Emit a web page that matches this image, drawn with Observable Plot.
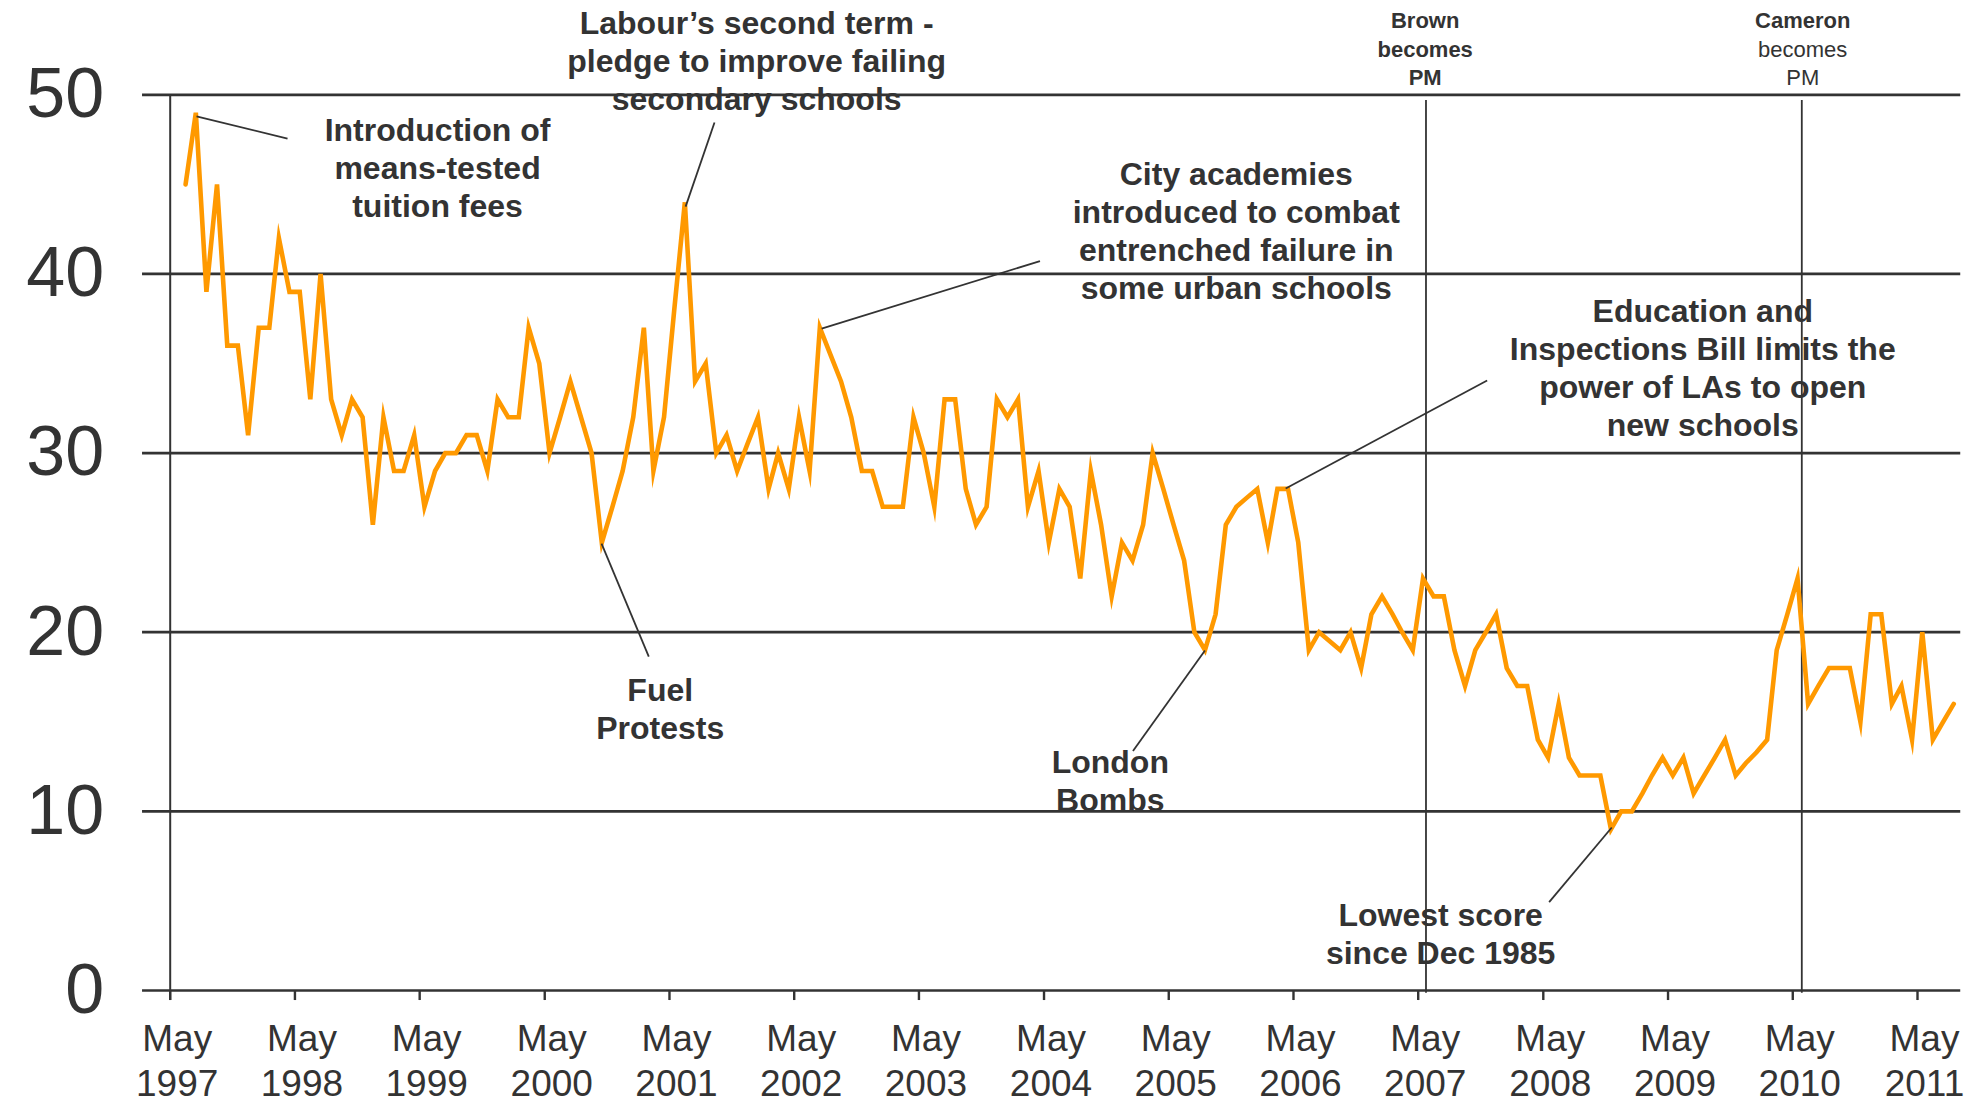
<!DOCTYPE html>
<html>
<head>
<meta charset="utf-8">
<script src="https://cdn.jsdelivr.net/npm/d3@7"></script>
<script src="https://cdn.jsdelivr.net/npm/@observablehq/plot@0.6"></script>
<style>
  html, body { margin: 0; padding: 0; background: #fff; }
  svg { display: block; }
</style>
</head>
<body>
<div id="chart"></div>
<script>
// ---------------- DATA ----------------
// Monthly scores, first observation June 1997, last August 2011
const firstYear = 1997;
const firstMonthIndex = 5; // June (0-based)
const scores1997 = [45, 49, 39, 45, 36, 36, 31];                       // Jun–Dec 1997
const scores1998 = [37, 37, 42, 39, 39, 33, 40, 33, 31, 33, 32, 26];
const scores1999 = [32, 29, 29, 31, 27, 29, 30, 30, 31, 31, 29, 33];
const scores2000 = [32, 32, 37, 35, 30, 32, 34, 32, 30, 25, 27, 29];
const scores2001 = [32, 37, 29, 32, 38, 44, 34, 35, 30, 31, 29, 30.5];
const scores2002 = [32, 28, 30, 28, 32, 29, 37, 35.5, 34, 32, 29, 29];
const scores2003 = [27, 27, 27, 32, 30, 27, 33, 33, 28, 26, 27, 33];
const scores2004 = [32, 33, 27, 29, 25, 28, 27, 23, 29, 26, 22, 25];
const scores2005 = [24, 26, 30, 28, 26, 24, 20, 19, 21, 26, 27, 27.5];
const scores2006 = [28, 25, 28, 28, 25, 19, 20, 19.5, 19, 20, 18, 21];
const scores2007 = [22, 21, 20, 19, 23, 22, 22, 19, 17, 19, 20, 21];
const scores2008 = [18, 17, 17, 14, 13, 16, 13, 12, 12, 12, 9, 10];
const scores2009 = [10, 11, 12, 13, 12, 13, 11, 12, 13, 14, 12, 12.7];
const scores2010 = [13.3, 14, 19, 21, 23, 16, 17, 18, 18, 18, 15, 21];
const scores2011 = [21, 16, 17, 14, 20, 14, 15, 16];                  // Jan–Aug 2011

const yTicks = [0, 10, 20, 30, 40, 50];
const tickYears = [1997, 1998, 1999, 2000, 2001, 2002, 2003, 2004, 2005, 2006, 2007, 2008, 2009, 2010, 2011];
const tickMonthLabel = "May";

const pmNames = ["Brown", "Cameron"];
const pmMonths = [120.73, 156.86];            // months after May 1997

const annLabels = [
  "Introduction of\nmeans-tested\ntuition fees",
  "Labour’s second term -\npledge to improve failing\nsecondary schools",
  "City academies\nintroduced to combat\nentrenched failure in\nsome urban schools",
  "Fuel\nProtests",
  "London\nBombs",
  "Education and\nInspections Bill limits the\npower of LAs to open\nnew schools",
  "Lowest score\nsince Dec 1985"
];
// ---------------- BUILD ----------------
const allScores = [].concat(scores1997, scores1998, scores1999, scores2000, scores2001, scores2002,
  scores2003, scores2004, scores2005, scores2006, scores2007, scores2008, scores2009, scores2010, scores2011);
const series = allScores.map((v, i) => ({date: new Date(Date.UTC(firstYear, firstMonthIndex + i, 15)), value: v}));

const origin = Date.UTC(1997, 4, 1);
const MONTH = 30.4375 * 864e5;
const mdate = (m) => new Date(origin + m * MONTH);

// annotation geometry (month offset from May 1997, score value)
const annText = [[25.70, 48.66], [56.38, 54.63], [102.49, 46.22], [47.11, 17.40], [90.38, 13.35], [147.34, 38.55], [122.14, 4.82]];
const annFrom = [[2.53, 48.8], [49.55, 43.76], [62.63, 36.95], [41.47, 24.95], [99.48, 18.98], [107.24, 28.02], [138.59, 9.10]];
const annTo   = [[11.28, 47.56], [52.33, 48.45], [83.62, 40.72], [46.01, 18.64], [92.56, 13.37], [126.61, 34.05], [132.57, 4.93]];
const annotations = annLabels.map((t, i) => ({text: t, tx: mdate(annText[i][0]), ty: annText[i][1],
  x1: mdate(annFrom[i][0]), y1: annFrom[i][1], x2: mdate(annTo[i][0]), y2: annTo[i][1]}));

const pm = pmNames.map((n, i) => ({name: n, date: mdate(pmMonths[i])}));
const pmLabelMonths = [120.65, 156.95];

const FONT = "Liberation Sans, Arial, Helvetica, sans-serif";
const INK = "#333333";
const gridLeft = mdate(-2.66), gridRight = mdate(172.14);
const axisDate = mdate(0);
const tickBottom = -0.56;

const chart = Plot.plot({
  width: 1984,
  height: 1102,
  margin: 0,
  style: {background: "#fff", overflow: "visible"},
  x: {type: "utc", domain: [new Date(Date.UTC(1997, 4, 1)), new Date(Date.UTC(2011, 4, 1))], range: [169.7, 1917], axis: null},
  y: {domain: [0, 50], range: [990, 94.3], axis: null},
  marks: [
    // horizontal gridlines
    Plot.ruleY(yTicks, {y: d => d, x1: () => gridLeft, x2: () => gridRight, stroke: INK, strokeWidth: 2.7}),
    // y axis line
    Plot.ruleX([axisDate], {x: d => d, y1: () => 50, y2: () => tickBottom, stroke: INK, strokeWidth: 2}),
    // x ticks
    Plot.ruleX(tickYears, {x: yr => new Date(Date.UTC(yr, 4, 1)), y1: () => 0, y2: () => tickBottom, stroke: INK, strokeWidth: 2.4}),
    // PM change lines
    Plot.ruleX(pm, {x: "date", y1: () => 49.68, y2: () => -0.15, stroke: INK, strokeWidth: 1.8}),
    // data line
    Plot.line(series, {x: "date", y: "value", stroke: "#FF9900", strokeWidth: 4.6, strokeLinejoin: "miter", strokeMiterlimit: 8}),
    // leader lines
    Plot.link(annotations, {x1: "x1", y1: "y1", x2: "x2", y2: "y2", stroke: INK, strokeWidth: 1.8}),
    // annotation text
    Plot.text(annotations, {x: "tx", y: "ty", text: "text", fontFamily: FONT, fontSize: 32, fontWeight: "bold",
      fill: INK, textAnchor: "middle", lineAnchor: "top", lineHeight: 1.19, dy: -5}),
    // PM labels
    Plot.text(pm, {x: (d, i) => mdate(pmLabelMonths[i]), y: () => 54.56, text: (d, i) => i === 0 ? "Brown\nbecomes\nPM" : "Cameron",
      fontFamily: FONT, fontSize: 22, fontWeight: "bold", fill: INK, textAnchor: "middle", lineAnchor: "top", lineHeight: 1.29, dy: -5}),
    Plot.text(pm.slice(1), {x: () => mdate(pmLabelMonths[1]), y: () => 52.97, text: () => "becomes\nPM",
      fontFamily: FONT, fontSize: 22, fontWeight: "normal", fill: INK, textAnchor: "middle", lineAnchor: "top", lineHeight: 1.29, dy: -5}),
    // y tick labels
    Plot.text(yTicks, {x: () => axisDate, y: d => d, text: d => String(d), dx: -66, textAnchor: "end", lineAnchor: "middle",
      fontFamily: FONT, fontSize: 70, fill: INK, ariaLabel: "ylab"}),
    // x tick labels
    Plot.text(tickYears, {x: yr => new Date(Date.UTC(yr, 4, 1)), y: () => 0, text: yr => `${tickMonthLabel}\n${yr}`,
      dx: 7, dy: 29, textAnchor: "middle", lineAnchor: "top", lineHeight: 1.21,
      fontFamily: FONT, fontSize: 37, fill: INK, ariaLabel: "xlab"})
  ]
});

document.getElementById("chart").appendChild(chart);

// widen the tick-label glyphs like the original
function stretch(label, k) {
  chart.querySelectorAll(`g[aria-label="${label}"] text`).forEach(t => {
    let tr = t.getAttribute("transform") || "";
    const x = t.getAttribute("x"), y = t.getAttribute("y");
    if (x != null || y != null) {
      tr += ` translate(${+x || 0},${+y || 0})`;
      t.removeAttribute("x"); t.removeAttribute("y");
    }
    t.setAttribute("transform", `${tr} scale(${k},1)`);
  });
}
stretch("ylab", 1.3);
stretch("xlab", 1.24);
</script>
</body>
</html>
